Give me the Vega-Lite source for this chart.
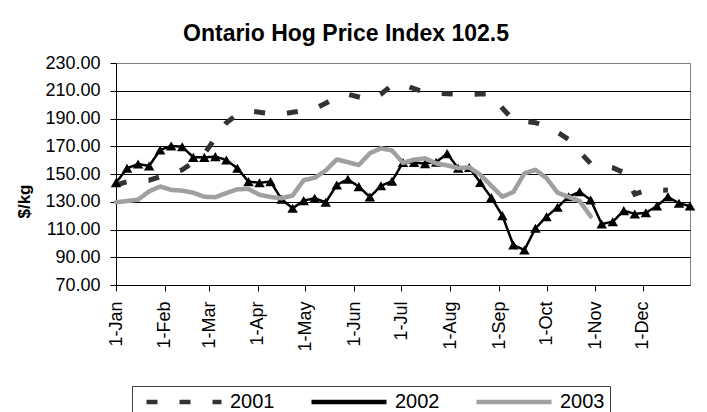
{
  "$schema": "https://vega.github.io/schema/vega-lite/v6.json",
  "width": 574,
  "height": 222,
  "autosize": "none",
  "padding": {"left": 116, "top": 63, "right": 17, "bottom": 127},
  "background": "white",
  "title": {"text": "Ontario Hog Price Index 102.5", "fontSize": 23, "fontWeight": "bold", "font": "Liberation Sans", "color": "black", "anchor": "middle", "dx": -57, "offset": 8},
  "config": {"view": {"stroke": "#808080", "strokeWidth": 1}, "font": "Liberation Sans"},
  "datasets": {
    "prices": [
      {"date": "2002-01-01T00:00:00", "year": "2001", "value": 142},
      {"date": "2002-01-08T00:00:00", "year": "2001", "value": 144.5},
      {"date": "2002-01-15T00:00:00", "year": "2001", "value": 145},
      {"date": "2002-01-22T00:00:00", "year": "2001", "value": 145.5},
      {"date": "2002-01-29T00:00:00", "year": "2001", "value": 148},
      {"date": "2002-02-05T00:00:00", "year": "2001", "value": 150.5},
      {"date": "2002-02-12T00:00:00", "year": "2001", "value": 153},
      {"date": "2002-02-19T00:00:00", "year": "2001", "value": 158.5},
      {"date": "2002-02-26T00:00:00", "year": "2001", "value": 164.5},
      {"date": "2002-03-05T00:00:00", "year": "2001", "value": 176},
      {"date": "2002-03-12T00:00:00", "year": "2001", "value": 187},
      {"date": "2002-03-19T00:00:00", "year": "2001", "value": 193},
      {"date": "2002-03-26T00:00:00", "year": "2001", "value": 195.5},
      {"date": "2002-04-02T00:00:00", "year": "2001", "value": 194.5},
      {"date": "2002-04-09T00:00:00", "year": "2001", "value": 193.5},
      {"date": "2002-04-16T00:00:00", "year": "2001", "value": 193.2},
      {"date": "2002-04-23T00:00:00", "year": "2001", "value": 194.5},
      {"date": "2002-04-30T00:00:00", "year": "2001", "value": 195.7},
      {"date": "2002-05-07T00:00:00", "year": "2001", "value": 197},
      {"date": "2002-05-14T00:00:00", "year": "2001", "value": 201},
      {"date": "2002-05-21T00:00:00", "year": "2001", "value": 205.5},
      {"date": "2002-05-28T00:00:00", "year": "2001", "value": 207.5},
      {"date": "2002-06-04T00:00:00", "year": "2001", "value": 205.5},
      {"date": "2002-06-11T00:00:00", "year": "2001", "value": 203.5},
      {"date": "2002-06-18T00:00:00", "year": "2001", "value": 207.5},
      {"date": "2002-06-25T00:00:00", "year": "2001", "value": 214},
      {"date": "2002-07-02T00:00:00", "year": "2001", "value": 214.5},
      {"date": "2002-07-09T00:00:00", "year": "2001", "value": 211.5},
      {"date": "2002-07-16T00:00:00", "year": "2001", "value": 209},
      {"date": "2002-07-23T00:00:00", "year": "2001", "value": 208.2},
      {"date": "2002-07-30T00:00:00", "year": "2001", "value": 207.8},
      {"date": "2002-08-06T00:00:00", "year": "2001", "value": 207.5},
      {"date": "2002-08-13T00:00:00", "year": "2001", "value": 207.5},
      {"date": "2002-08-20T00:00:00", "year": "2001", "value": 207.6},
      {"date": "2002-08-27T00:00:00", "year": "2001", "value": 207.7},
      {"date": "2002-09-03T00:00:00", "year": "2001", "value": 197.5},
      {"date": "2002-09-10T00:00:00", "year": "2001", "value": 188.8},
      {"date": "2002-09-17T00:00:00", "year": "2001", "value": 187.9},
      {"date": "2002-09-24T00:00:00", "year": "2001", "value": 187},
      {"date": "2002-10-01T00:00:00", "year": "2001", "value": 184.5},
      {"date": "2002-10-08T00:00:00", "year": "2001", "value": 180},
      {"date": "2002-10-15T00:00:00", "year": "2001", "value": 175},
      {"date": "2002-10-22T00:00:00", "year": "2001", "value": 166},
      {"date": "2002-10-29T00:00:00", "year": "2001", "value": 157.5},
      {"date": "2002-11-05T00:00:00", "year": "2001", "value": 156},
      {"date": "2002-11-12T00:00:00", "year": "2001", "value": 154.6},
      {"date": "2002-11-19T00:00:00", "year": "2001", "value": 151},
      {"date": "2002-11-26T00:00:00", "year": "2001", "value": 135.5},
      {"date": "2002-12-03T00:00:00", "year": "2001", "value": 138.2},
      {"date": "2002-12-10T00:00:00", "year": "2001", "value": 138.3},
      {"date": "2002-12-17T00:00:00", "year": "2001", "value": 138.4},

      {"date": "2002-01-01T00:00:00", "year": "2002", "value": 143.7},
      {"date": "2002-01-08T00:00:00", "year": "2002", "value": 154.1},
      {"date": "2002-01-15T00:00:00", "year": "2002", "value": 157.2},
      {"date": "2002-01-22T00:00:00", "year": "2002", "value": 155.8},
      {"date": "2002-01-29T00:00:00", "year": "2002", "value": 167.3},
      {"date": "2002-02-05T00:00:00", "year": "2002", "value": 170.2},
      {"date": "2002-02-12T00:00:00", "year": "2002", "value": 169.7},
      {"date": "2002-02-19T00:00:00", "year": "2002", "value": 162},
      {"date": "2002-02-26T00:00:00", "year": "2002", "value": 162},
      {"date": "2002-03-05T00:00:00", "year": "2002", "value": 162.5},
      {"date": "2002-03-12T00:00:00", "year": "2002", "value": 160.1},
      {"date": "2002-03-19T00:00:00", "year": "2002", "value": 154.1},
      {"date": "2002-03-26T00:00:00", "year": "2002", "value": 144.5},
      {"date": "2002-04-02T00:00:00", "year": "2002", "value": 143.7},
      {"date": "2002-04-09T00:00:00", "year": "2002", "value": 144.5},
      {"date": "2002-04-16T00:00:00", "year": "2002", "value": 131.8},
      {"date": "2002-04-23T00:00:00", "year": "2002", "value": 125.3},
      {"date": "2002-04-30T00:00:00", "year": "2002", "value": 130.8},
      {"date": "2002-05-07T00:00:00", "year": "2002", "value": 132.5},
      {"date": "2002-05-14T00:00:00", "year": "2002", "value": 129.6},
      {"date": "2002-05-21T00:00:00", "year": "2002", "value": 142.1},
      {"date": "2002-05-28T00:00:00", "year": "2002", "value": 146.2},
      {"date": "2002-06-04T00:00:00", "year": "2002", "value": 140.9},
      {"date": "2002-06-11T00:00:00", "year": "2002", "value": 133.4},
      {"date": "2002-06-18T00:00:00", "year": "2002", "value": 141.5},
      {"date": "2002-06-25T00:00:00", "year": "2002", "value": 144.8},
      {"date": "2002-07-02T00:00:00", "year": "2002", "value": 158.3},
      {"date": "2002-07-09T00:00:00", "year": "2002", "value": 158.3},
      {"date": "2002-07-16T00:00:00", "year": "2002", "value": 157.5},
      {"date": "2002-07-23T00:00:00", "year": "2002", "value": 158.5},
      {"date": "2002-07-30T00:00:00", "year": "2002", "value": 164.7},
      {"date": "2002-08-06T00:00:00", "year": "2002", "value": 154.1},
      {"date": "2002-08-13T00:00:00", "year": "2002", "value": 154.7},
      {"date": "2002-08-20T00:00:00", "year": "2002", "value": 143.9},
      {"date": "2002-08-27T00:00:00", "year": "2002", "value": 133},
      {"date": "2002-09-03T00:00:00", "year": "2002", "value": 120},
      {"date": "2002-09-10T00:00:00", "year": "2002", "value": 98.8},
      {"date": "2002-09-17T00:00:00", "year": "2002", "value": 95.2},
      {"date": "2002-09-24T00:00:00", "year": "2002", "value": 110.9},
      {"date": "2002-10-01T00:00:00", "year": "2002", "value": 119.2},
      {"date": "2002-10-08T00:00:00", "year": "2002", "value": 126},
      {"date": "2002-10-15T00:00:00", "year": "2002", "value": 133.6},
      {"date": "2002-10-22T00:00:00", "year": "2002", "value": 137.2},
      {"date": "2002-10-29T00:00:00", "year": "2002", "value": 131.3},
      {"date": "2002-11-05T00:00:00", "year": "2002", "value": 114},
      {"date": "2002-11-12T00:00:00", "year": "2002", "value": 115.6},
      {"date": "2002-11-19T00:00:00", "year": "2002", "value": 123.6},
      {"date": "2002-11-26T00:00:00", "year": "2002", "value": 121.2},
      {"date": "2002-12-03T00:00:00", "year": "2002", "value": 122.1},
      {"date": "2002-12-10T00:00:00", "year": "2002", "value": 126.9},
      {"date": "2002-12-17T00:00:00", "year": "2002", "value": 133.6},
      {"date": "2002-12-24T00:00:00", "year": "2002", "value": 128.9},
      {"date": "2002-12-31T00:00:00", "year": "2002", "value": 126.9},

      {"date": "2002-01-01T00:00:00", "year": "2003", "value": 129.6},
      {"date": "2002-01-08T00:00:00", "year": "2003", "value": 130.5},
      {"date": "2002-01-15T00:00:00", "year": "2003", "value": 131.5},
      {"date": "2002-01-22T00:00:00", "year": "2003", "value": 137.5},
      {"date": "2002-01-29T00:00:00", "year": "2003", "value": 141},
      {"date": "2002-02-05T00:00:00", "year": "2003", "value": 138.5},
      {"date": "2002-02-12T00:00:00", "year": "2003", "value": 138},
      {"date": "2002-02-19T00:00:00", "year": "2003", "value": 136.5},
      {"date": "2002-02-26T00:00:00", "year": "2003", "value": 133.6},
      {"date": "2002-03-05T00:00:00", "year": "2003", "value": 133.3},
      {"date": "2002-03-12T00:00:00", "year": "2003", "value": 136.3},
      {"date": "2002-03-19T00:00:00", "year": "2003", "value": 139},
      {"date": "2002-03-26T00:00:00", "year": "2003", "value": 139.2},
      {"date": "2002-04-02T00:00:00", "year": "2003", "value": 135},
      {"date": "2002-04-09T00:00:00", "year": "2003", "value": 133.5},
      {"date": "2002-04-16T00:00:00", "year": "2003", "value": 132.5},
      {"date": "2002-04-23T00:00:00", "year": "2003", "value": 134.5},
      {"date": "2002-04-30T00:00:00", "year": "2003", "value": 145.5},
      {"date": "2002-05-07T00:00:00", "year": "2003", "value": 147.3},
      {"date": "2002-05-14T00:00:00", "year": "2003", "value": 152.5},
      {"date": "2002-05-21T00:00:00", "year": "2003", "value": 160.5},
      {"date": "2002-05-28T00:00:00", "year": "2003", "value": 158.5},
      {"date": "2002-06-04T00:00:00", "year": "2003", "value": 156.5},
      {"date": "2002-06-11T00:00:00", "year": "2003", "value": 165},
      {"date": "2002-06-18T00:00:00", "year": "2003", "value": 168.5},
      {"date": "2002-06-25T00:00:00", "year": "2003", "value": 167},
      {"date": "2002-07-02T00:00:00", "year": "2003", "value": 158},
      {"date": "2002-07-09T00:00:00", "year": "2003", "value": 160.3},
      {"date": "2002-07-16T00:00:00", "year": "2003", "value": 161.3},
      {"date": "2002-07-23T00:00:00", "year": "2003", "value": 157.7},
      {"date": "2002-07-30T00:00:00", "year": "2003", "value": 156.2},
      {"date": "2002-08-06T00:00:00", "year": "2003", "value": 154.3},
      {"date": "2002-08-13T00:00:00", "year": "2003", "value": 154.8},
      {"date": "2002-08-20T00:00:00", "year": "2003", "value": 149.5},
      {"date": "2002-08-27T00:00:00", "year": "2003", "value": 141.5},
      {"date": "2002-09-03T00:00:00", "year": "2003", "value": 133.6},
      {"date": "2002-09-10T00:00:00", "year": "2003", "value": 137},
      {"date": "2002-09-17T00:00:00", "year": "2003", "value": 150.5},
      {"date": "2002-09-24T00:00:00", "year": "2003", "value": 153},
      {"date": "2002-10-01T00:00:00", "year": "2003", "value": 147},
      {"date": "2002-10-08T00:00:00", "year": "2003", "value": 136.5},
      {"date": "2002-10-15T00:00:00", "year": "2003", "value": 133.5},
      {"date": "2002-10-22T00:00:00", "year": "2003", "value": 130.5},
      {"date": "2002-10-29T00:00:00", "year": "2003", "value": 119.5}
    ]
  },
  "data": {"name": "prices"},
  "encoding": {
    "x": {
      "field": "date", "type": "temporal",
      "scale": {"domain": [{"year": 2002, "month": 1, "date": 1}, {"year": 2002, "month": 12, "date": 31}]},
      "axis": {"title": null, "format": "%-d-%b", "tickCount": {"interval": "month", "step": 1}, "labelAngle": 270, "labelAlign": "right", "labelBaseline": "middle", "labelFontSize": 18, "labelColor": "black", "tickColor": "black", "tickSize": 6, "labelPadding": 10, "domainColor": "black", "grid": false, "labelOverlap": false, "labelFlush": false}
    },
    "y": {
      "field": "value", "type": "quantitative",
      "scale": {"domain": [70, 230], "nice": false, "zero": false},
      "axis": {"title": "$/kg", "titleFontSize": 17, "titleFontWeight": "bold", "titleColor": "black", "titleX": -92, "titleY": 138, "titleAlign": "center", "titleBaseline": "middle", "titleAngle": 270, "values": [70, 90, 110, 130, 150, 170, 190, 210, 230], "tickCount": 9, "labelOverlap": false, "format": ".2f", "labelFontSize": 18, "labelColor": "black", "tickColor": "black", "tickSize": 6, "labelPadding": 10, "domainColor": "black", "grid": true, "gridColor": {"condition": {"test": "datum.value === 230", "value": "#808080"}, "value": "black"}, "gridOpacity": 1}
    },
    "color": {
      "field": "year", "type": "nominal",
      "scale": {"domain": ["2001", "2002", "2003"], "range": ["#333333", "#000000", "#a0a0a0"]},
      "legend": {"orient": "none", "legendX": 16, "legendY": 323, "direction": "horizontal", "title": " ", "titleOrient": "left", "titleFontSize": 8, "titlePadding": 7, "strokeColor": "#404040", "fillColor": "white", "padding": 5, "labelFontSize": 20, "labelColor": "black", "symbolSize": 5625, "clipHeight": 22, "symbolType": "stroke", "symbolStrokeWidth": 4.5, "labelOffset": 6, "columnPadding": 34}
    },
    "strokeDash": {
      "field": "year", "type": "nominal",
      "scale": {"domain": ["2001", "2002", "2003"], "range": [[11, 22], [1, 0], [1, 0]]}
    }
  },
  "layer": [
    {
      "transform": [{"filter": "datum.year === '2001'"}],
      "mark": {"type": "line", "strokeCap": "butt", "strokeWidth": 5}
    },
    {
      "transform": [{"filter": "datum.year === '2002'"}],
      "mark": {"type": "line", "strokeWidth": 2.5, "strokeJoin": "round"}
    },
    {
      "transform": [{"filter": "datum.year === '2002'"}],
      "mark": {"type": "point", "shape": "triangle-up", "filled": true, "color": "black", "size": 110, "opacity": 1}
    },
    {
      "transform": [{"filter": "datum.year === '2003'"}],
      "mark": {"type": "line", "strokeWidth": 4.5, "strokeJoin": "round", "strokeCap": "round"}
    }
  ]
}
